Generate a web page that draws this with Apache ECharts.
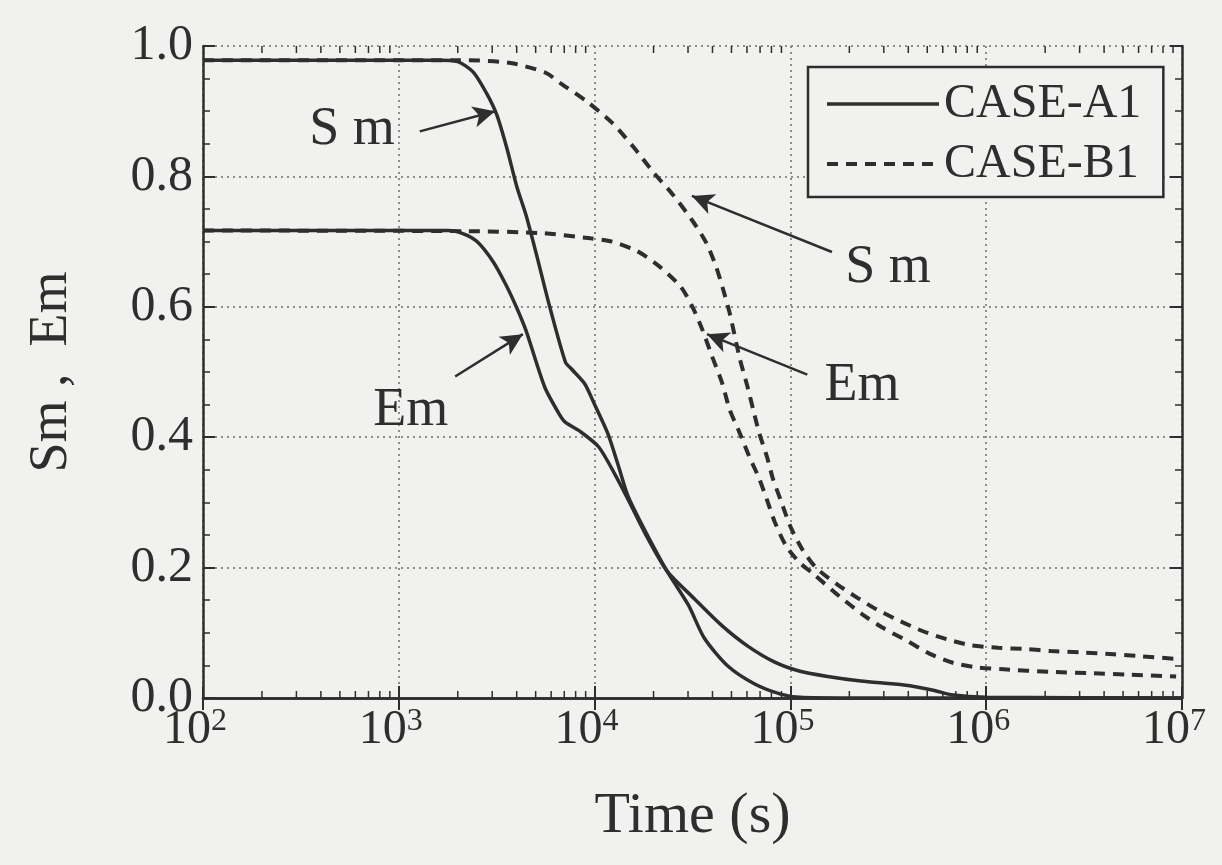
<!DOCTYPE html>
<html>
<head>
<meta charset="utf-8">
<script src="https://cdn.jsdelivr.net/npm/echarts@6/dist/echarts.min.js"></script>
<style>
html,body{margin:0;padding:0;background:#f1f1ef;}
#chart{width:1222px;height:865px;}
</style>
</head>
<body>
<div id="chart"></div>
<script>
// ---- data (time in seconds, value) ----
const smA1Time = [100,1600,2000,2400,2800,3160,3550,4000,4470,5000,5900,7100,7600,8900,10000,11700,13200,14800,18000,23400,30200,36300,47900,66100,89100,112000,200000,10000000];
const smA1Val  = [0.978,0.978,0.976,0.96,0.928,0.895,0.845,0.785,0.74,0.685,0.6,0.515,0.505,0.482,0.45,0.405,0.357,0.31,0.258,0.195,0.142,0.092,0.049,0.021,0.006,0.001,0,0];

const emA1Time = [100,1780,2140,2510,3050,3550,3980,4470,5560,6610,7080,8510,10500,12600,14800,18000,23400,32400,44700,60300,83200,112000,155000,229000,380000,537000,661000,1000000,10000000];
const emA1Val  = [0.717,0.717,0.712,0.70,0.668,0.632,0.6,0.563,0.477,0.435,0.423,0.408,0.385,0.345,0.305,0.254,0.195,0.152,0.111,0.08,0.055,0.041,0.033,0.026,0.02,0.012,0.005,0.001,0];

const smB1Time = [100,2000,2240,3720,5620,6760,9120,12300,15800,20000,25100,31600,37200,41700,45200,49000,55000,60300,64600,69200,75900,81300,89100,100000,115000,135000,174000,219000,275000,363000,479000,631000,832000,1150000,1620000,2140000,3020000,4470000,6170000,9330000];
const smB1Val  = [0.978,0.978,0.978,0.974,0.959,0.942,0.915,0.882,0.845,0.806,0.772,0.732,0.698,0.662,0.628,0.59,0.522,0.478,0.442,0.407,0.37,0.337,0.304,0.263,0.228,0.2,0.174,0.154,0.136,0.118,0.102,0.09,0.081,0.077,0.075,0.072,0.07,0.067,0.064,0.06];

const emB1Time = [100,2240,5370,9550,12300,16600,21400,27500,31600,35500,39800,44700,49000,55000,61700,69200,75900,83200,95500,112000,129000,178000,234000,295000,398000,513000,676000,891000,1230000,2140000,3550000,5250000,9330000];
const emB1Val  = [0.717,0.716,0.713,0.705,0.70,0.685,0.662,0.631,0.6,0.565,0.524,0.484,0.442,0.407,0.37,0.337,0.304,0.27,0.232,0.207,0.192,0.156,0.128,0.108,0.087,0.068,0.054,0.047,0.044,0.04,0.038,0.036,0.033];

const legendNames = ['CASE-A1','CASE-B1'];
const xMin = 100, xMax = 10000000;

// annotations (data coordinates)
const annoText = ['S m','Em','S m','Em'];
const annoAt   = [[577,0.872],[1150,0.441],[315000,0.66],[232000,0.479]];
const arrowFrom = [[1280,0.869],[1940,0.493],[163000,0.684],[122000,0.496]];
const arrowTo   = [[3100,0.900],[4300,0.558],[31400,0.77],[37500,0.558]];

// ---- helpers ----
const pair = (t, v) => t.map((x, i) => [x, v[i]]);
const minorTicks = [];
for (let d = xMin; d < xMax; d *= 10) for (let k = 2; k <= 9; k++) minorTicks.push([d * k]);

const FONT = "'Liberation Serif','Times New Roman',serif";
const INK = '#2e2e2e';
const SOLID = {color:INK, width:3.5, type:'solid'};
const DASH = {color:INK, width:4, type:[11,8]};

const chart = echarts.init(document.getElementById('chart'), null, {renderer:'canvas'});

const axisLineStyle = {show:true, lineStyle:{color:INK, width:2.5}};
const gridStyle = {show:true, lineStyle:{color:'#6e6e6e', width:1.5, type:[2,4]}};

const lineSeries = (name, t, v, ls, z) => ({
  name, type:'line', data:pair(t, v), showSymbol:false, symbol:'none',
  smooth:0.25, z, lineStyle:ls, itemStyle:{color:INK}
});

const option = {
  backgroundColor:'#f1f1ef',
  animation:false,
  grid:{left:203, right:40, top:46, bottom:167, containLabel:false},
  legend:{
    data:[
      {name:legendNames[0], itemStyle:{opacity:0, borderWidth:0}, lineStyle:SOLID},
      {name:legendNames[1], itemStyle:{opacity:0, borderWidth:0}, lineStyle:DASH}
    ],
    orient:'vertical', left:808, top:67,
    itemWidth:112, itemHeight:20, itemGap:10,
    padding:[12,22,8,17],
    borderColor:INK, borderWidth:2.5, backgroundColor:'#f1f1ef',
    textStyle:{fontFamily:FONT, fontSize:48, color:INK, lineHeight:50},
    selectedMode:false
  },
  xAxis:[{
    type:'log', logBase:10, min:xMin, max:xMax, position:'bottom',
    axisLine:axisLineStyle,
    axisTick:{show:true, inside:true, length:12, lineStyle:{color:INK, width:2}},
    splitLine:gridStyle,
    axisLabel:{
      margin:8, color:INK,
      formatter:v => '{b|10}{s|' + Math.round(Math.log10(v)) + '}',
      rich:{
        b:{fontFamily:FONT, fontSize:48, color:INK},
        s:{fontFamily:FONT, fontSize:32, color:INK, verticalAlign:'top', padding:[0,16,0,0]}
      }
    },
    name:'Time (s)', nameLocation:'middle', nameGap:90,
    nameTextStyle:{fontFamily:FONT, fontSize:58, color:INK}
  },{
    type:'log', logBase:10, min:xMin, max:xMax, position:'top',
    axisLine:axisLineStyle,
    axisTick:{show:true, inside:true, length:12, lineStyle:{color:INK, width:2}},
    axisLabel:{show:false}, splitLine:{show:false}
  }],
  yAxis:[{
    type:'value', min:0, max:1, interval:0.2, position:'left',
    axisLine:axisLineStyle,
    axisTick:{show:true, inside:true, length:12, lineStyle:{color:INK, width:2}},
    minorTick:{show:true, splitNumber:4, length:7, lineStyle:{color:INK, width:1.5}},
    splitLine:gridStyle,
    axisLabel:{margin:10, fontFamily:FONT, fontSize:50, color:INK, formatter:v => v.toFixed(1)},
    name:'Sm ,  Em', nameLocation:'middle', nameGap:124,
    nameTextStyle:{fontFamily:FONT, fontSize:54, color:INK}
  },{
    type:'value', min:0, max:1, interval:0.2, position:'right',
    axisLine:axisLineStyle,
    axisTick:{show:true, inside:true, length:12, lineStyle:{color:INK, width:2}},
    minorTick:{show:true, splitNumber:4, length:7, lineStyle:{color:INK, width:1.5}},
    axisLabel:{show:false}, splitLine:{show:false}
  }],
  series:[
    lineSeries('CASE-B1', smB1Time, smB1Val, DASH, 3),
    lineSeries('CASE-B1', emB1Time, emB1Val, DASH, 3),
    lineSeries('CASE-A1', smA1Time, smA1Val, SOLID, 4),
    Object.assign(lineSeries('CASE-A1', emA1Time, emA1Val, SOLID, 4), {
      markLine:{
        silent:true, symbol:['none','arrow'], symbolSize:[16,22], animation:false,
        lineStyle:{color:INK, width:2.5, type:'solid'}, label:{show:false},
        data: arrowFrom.map((f, i) => [{coord:f}, {coord:arrowTo[i]}])
      }
    }),
    {name:'annotations', type:'scatter', symbolSize:0, silent:true, z:6,
     itemStyle:{opacity:1, color:INK},
     data: annoAt.map((p, i) => ({value:p, name:annoText[i]})),
     label:{show:true, position:'inside', formatter:p => p.name,
            fontFamily:FONT, fontSize:54, color:INK, opacity:1}},
    {name:'minorTicks', type:'custom', silent:true, z:7, clip:false,
     data:minorTicks, encode:{x:0},
     renderItem:(params, api) => {
       const t = api.value(0);
       const b = api.coord([t, 0]);
       const u = api.coord([t, 1]);
       const st = {stroke:INK, lineWidth:1.5};
       return {type:'group', children:[
         {type:'line', shape:{x1:b[0], y1:b[1], x2:b[0], y2:b[1]-7}, style:st},
         {type:'line', shape:{x1:u[0], y1:u[1], x2:u[0], y2:u[1]+7}, style:st}
       ]};
     }}
  ]
};
chart.setOption(option);
</script>
</body>
</html>
